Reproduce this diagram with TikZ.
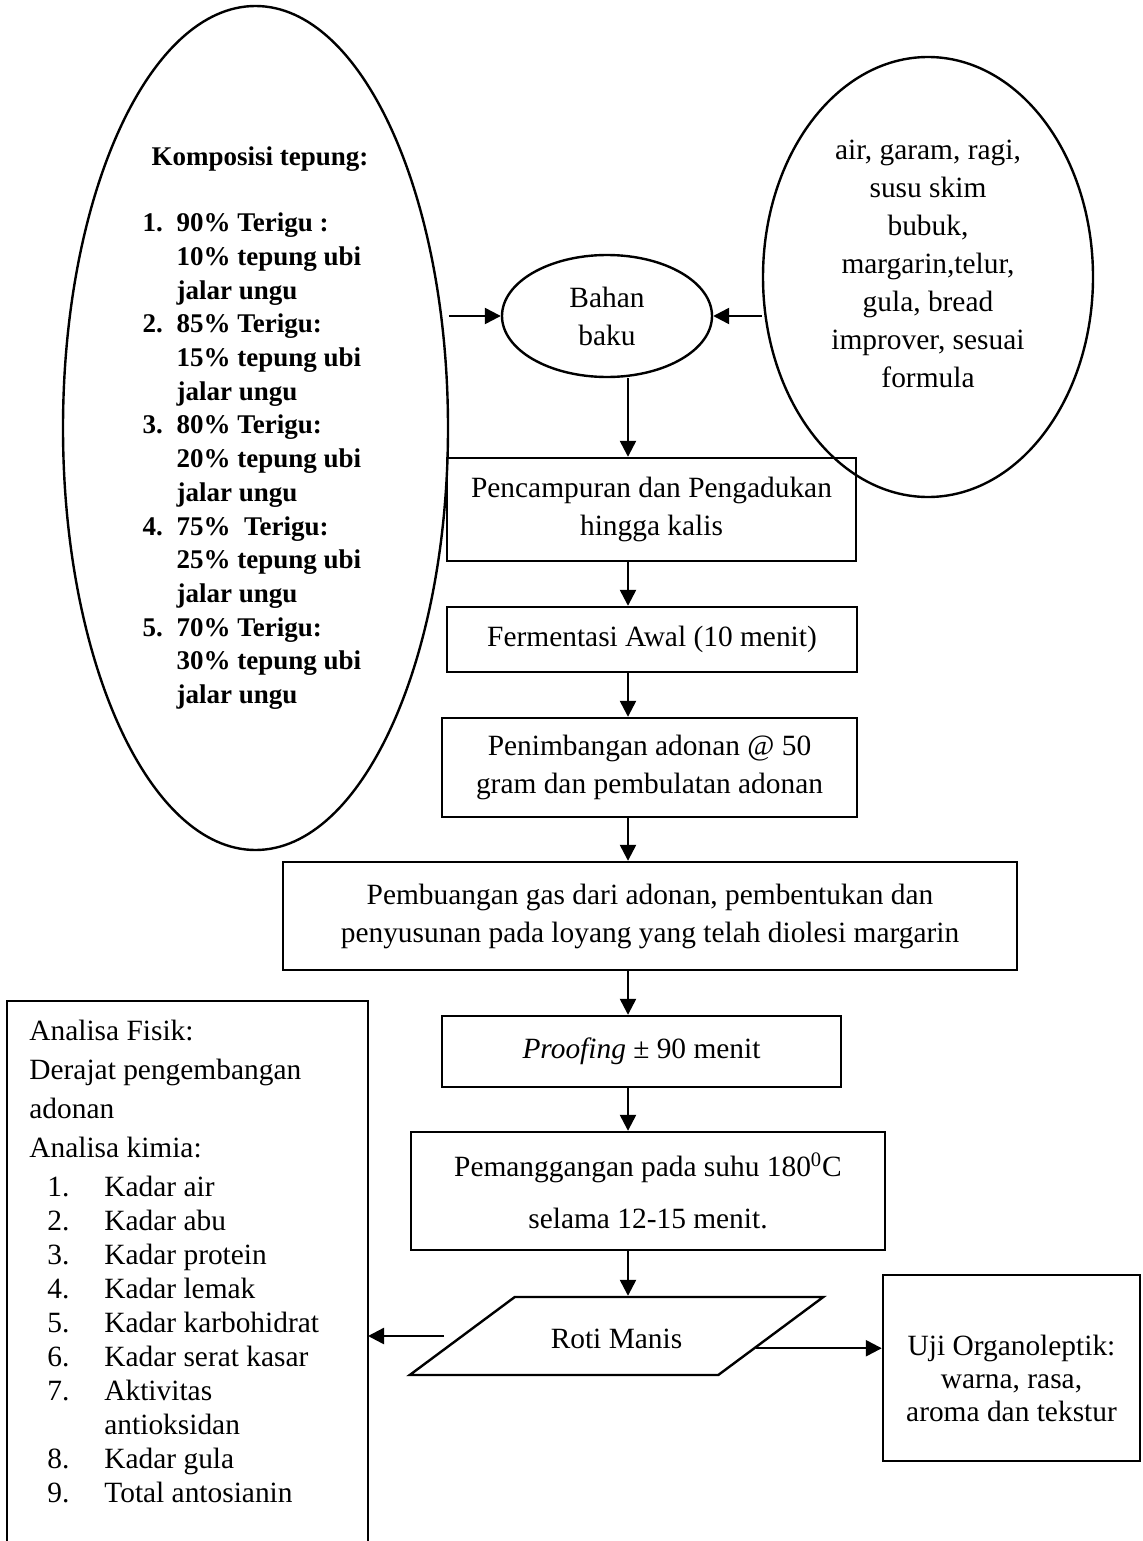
\documentclass[tikz,border=0pt]{standalone}
\usepackage{fontspec}
\setmainfont{Liberation Serif}
\usetikzlibrary{shapes.geometric,arrows.meta,positioning}
\newcommand{\hurufbiasa}{\fontsize{14.7}{19}\selectfont}
\newcommand{\hurufdaftar}{\fontsize{14.7}{17}\selectfont}
\newcommand{\huruftebal}{\fontsize{13.5}{16.86}\selectfont\bfseries}
\tikzset{
  kotak/.style={draw,line width=1.2pt,rectangle,inner sep=0pt,align=center,font=\hurufbiasa},
  elips/.style={draw,line width=1.2pt,ellipse,inner sep=0pt,align=center,font=\hurufbiasa},
  jajargenjang/.style={draw,line width=1.2pt,trapezium,trapezium left angle=36.6,trapezium right angle=143.4,
    text height=12.5pt,text depth=0.5pt,inner xsep=18pt,inner ysep=13pt,font=\hurufbiasa},
  panah/.style={line width=1.2pt,-{Triangle[length=8pt,width=8pt]}}
}

\begin{document}
\begin{tikzpicture}[x=0.5pt,y=-0.5pt]
%
\useasboundingbox (0,0) rectangle (1142,1541);
%
\coordinate (spine) at (628,0);
\coordinate (analisaSW) at (7,1541);
\coordinate (analisaNW) at (7,1001);
\coordinate (analisaNE) at (368,1001);
\coordinate (analisaSE) at (368,1541);
%
\node[elips,minimum width=192.5pt,minimum height=422pt,font=\huruftebal] (komposisi) at (255.5,428) {%
\begin{tabular}{@{}p{17pt}@{}l@{}}
\multicolumn{2}{@{\hspace{4.5pt}}l@{}}{Komposisi tepung:}\\[16pt]
1. & 90\% Terigu :\\
   & 10\% tepung ubi\\
   & jalar ungu\\
2. & 85\% Terigu:\\
   & 15\% tepung ubi\\
   & jalar ungu\\
3. & 80\% Terigu:\\
   & 20\% tepung ubi\\
   & jalar ungu\\
4. & 75\%\ \ Terigu:\\
   & 25\% tepung ubi\\
   & jalar ungu\\
5. & 70\% Terigu:\\
   & 30\% tepung ubi\\
   & jalar ungu
\end{tabular}};
\node[elips,minimum width=105pt,minimum height=61pt] (bahan) at (607,316) {Bahan\\baku};
\node[elips,minimum width=165pt,minimum height=220pt,
  label={[align=center,font=\hurufbiasa,yshift=6.5pt]center:{air, garam, ragi,\\susu skim\\bubuk,\\margarin,telur,\\gula, bread\\improver, sesuai\\formula}}] (tambahan) at (928,277) {};
%
\node[kotak,minimum width=204.5pt,minimum height=51.5pt] (campur) at (651.5,509.5) {Pencampuran dan Pengadukan\\hingga kalis};
\node[kotak,minimum width=205pt,minimum height=32.5pt] (fermentasi) at (652,639.5) {Fermentasi Awal (10 menit)};
\node[kotak,minimum width=207.5pt,minimum height=49.5pt] (timbang) at (649.5,767.5) {Penimbangan adonan @ 50\\gram dan pembulatan adonan};
\node[kotak,minimum width=367pt,minimum height=54pt] (buang) at (650,916) {Pembuangan gas dari adonan, pembentukan dan\\penyusunan pada loyang yang telah diolesi margarin};
\node[kotak,minimum width=199.5pt,minimum height=35.5pt] (proofing) at (641.5,1051.5) {\textit{Proofing} ± 90 menit};
\node[kotak,minimum width=237pt,minimum height=59pt] (panggang) at (648,1191) {Pemanggangan pada suhu 180\textsuperscript{0}C\\[7pt]selama 12-15 menit.};
\node[jajargenjang] (roti) at (616.5,1336) {Roti Manis};
\node[kotak,minimum width=128.5pt,minimum height=93pt,
  label={[align=center,font=\fontsize{14.7}{16.5}\selectfont,yshift=-5pt]center:{Uji Organoleptik:\\warna, rasa,\\aroma dan tekstur}}] (uji) at (1011.5,1368) {};
%
\draw[line width=1.2pt] (analisaSW) -- (analisaNW) -- (analisaNE) -- (analisaSE);
\node[anchor=north west,inner sep=0pt,font=\hurufdaftar] (analisa) at (29,1016) {%
\begin{tabular}{@{\hspace{9pt}}p{28.5pt}@{}l@{}}
\multicolumn{2}{@{}l@{}}{Analisa Fisik:}\\[2.5pt]
\multicolumn{2}{@{}l@{}}{Derajat pengembangan}\\[2.5pt]
\multicolumn{2}{@{}l@{}}{adonan}\\[2.5pt]
\multicolumn{2}{@{}l@{}}{Analisa kimia:}\\[2.5pt]
1. & Kadar air\\
2. & Kadar abu\\
3. & Kadar protein\\
4. & Kadar lemak\\
5. & Kadar karbohidrat\\
6. & Kadar serat kasar\\
7. & Aktivitas\\
   & antioksidan\\
8. & Kadar gula\\
9. & Total antosianin
\end{tabular}};
%
\draw[panah] (komposisi.east |- bahan.west) -- (bahan.west);
\draw[panah] (tambahan.west |- bahan.east) -- (bahan.east);
\draw[panah] (bahan.south -| spine) -- (campur.north -| spine);
\draw[panah] (campur.south -| spine) -- (fermentasi.north -| spine);
\draw[panah] (fermentasi.south -| spine) -- (timbang.north -| spine);
\draw[panah] (timbang.south -| spine) -- (buang.north -| spine);
\draw[panah] (buang.south -| spine) -- (proofing.north -| spine);
\draw[panah] (proofing.south -| spine) -- (panggang.north -| spine);
\draw[panah] (panggang.south -| spine) -- (roti.north -| spine);
\draw[panah,shorten <=8pt] (roti.west) -- (roti.west -| analisaNE);
\draw[panah] (roti.-5) -- (roti.-5 -| uji.west);
%
\end{tikzpicture}
\end{document}
